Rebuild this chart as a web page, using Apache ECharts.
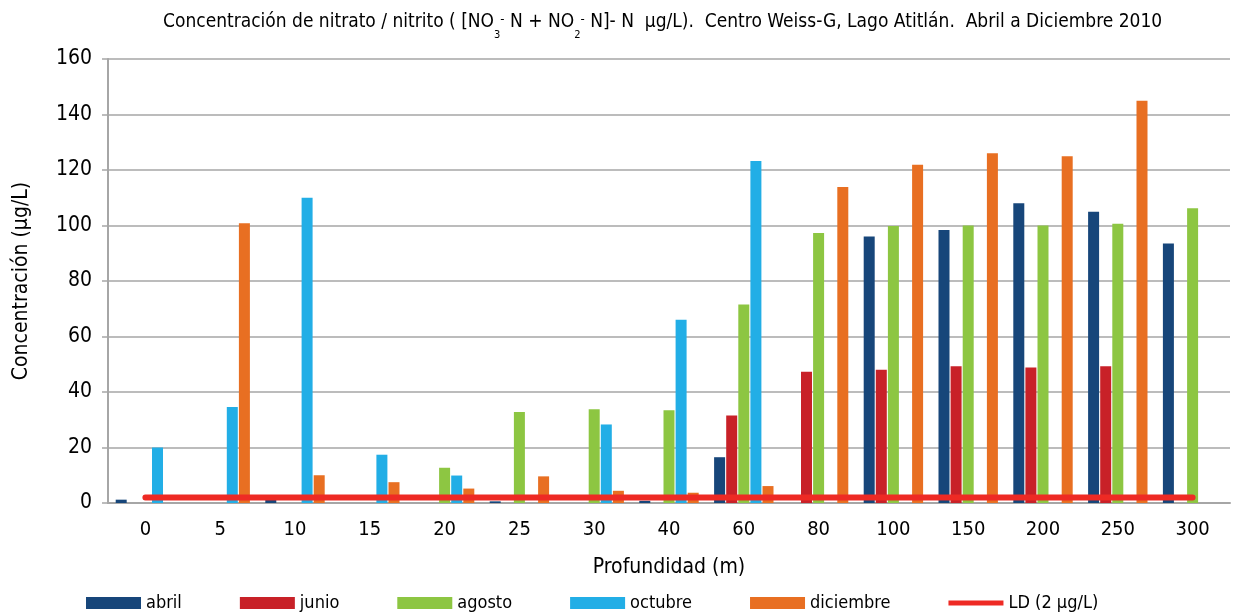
<!DOCTYPE html>
<html>
<head>
<meta charset="utf-8">
<script src="https://cdn.jsdelivr.net/npm/echarts@6/dist/echarts.min.js"></script>
<style>
html,body{margin:0;padding:0;background:#fff;}
#chart{width:1236px;height:616px;}
</style>
</head>
<body>
<div id="chart"></div>
<script>
var categories = ['0','5','10','15','20','25','30','40','60','80','100','150','200','250','300'];
var abril     = [1.2, null, 1.2, null, null, 0.6, null, 0.8, 16.5, null, 96, 98.4, 108, 105, 93.5];
var junio     = [null, null, null, null, null, null, null, null, 31.5, 47.3, 48, 49.3, 48.8, 49.3, null];
var agosto    = [null, null, null, null, 12.7, 32.8, 33.8, 33.4, 71.5, 97.3, 99.8, 100, 100, 100.6, 106.2];
var octubre   = [20, 34.6, 110, 17.4, 9.9, null, 28.3, 66, 123.2, null, null, null, null, null, null];
var diciembre = [null, 100.8, 10, 7.5, 5.2, 9.6, 4.4, 3.7, 6.1, 113.9, 121.9, 126, 125, 145, null];
var LD        = [2, 2, 2, 2, 2, 2, 2, 2, 2, 2, 2, 2, 2, 2, 2];
var yTicks = {min: 0, max: 160, interval: 20};

var FONT = '"Liberation Sans Narrow","DejaVu Sans Condensed",sans-serif';
var chart = echarts.init(document.getElementById('chart'));

function barSeries(name, data, color) {
  return {
    name: name, type: 'bar', data: data,
    barWidth: 11, barGap: '10%',
    itemStyle: {color: color},
    z: 2
  };
}

chart.setOption({
  animation: false,
  backgroundColor: '#ffffff',
  title: {
    left: 158, top: 8,
    text: '{a|Concentración de nitrato / nitrito ( [NO}{sub|3}{sup|-}{a| N + NO}{sub|2}{sup|-}{a| N]- N  μg/L).  Centro Weiss-G, Lago Atitlán.  Abril a Diciembre 2010}',
    textStyle: {
      fontWeight: 'normal',
      rich: {
        a: {fontFamily: FONT, fontSize: 19, fontWeight: 'normal', color: '#000', lineHeight: 28, verticalAlign: 'top'},
        sub: {fontFamily: FONT, fontSize: 11, fontWeight: 'normal', color: '#000', lineHeight: 11, verticalAlign: 'bottom'},
        sup: {fontFamily: FONT, fontSize: 13, fontWeight: 'normal', color: '#000', lineHeight: 13, verticalAlign: 'top'}
      }
    }
  },
  legend: {
    left: 81, top: 589,
    itemWidth: 55, itemHeight: 12, itemGap: 58,
    textStyle: {fontFamily: FONT, fontSize: 18, color: '#000'},
    data: [
      {name: 'abril', icon: 'rect'},
      {name: 'junio', icon: 'rect'},
      {name: 'agosto', icon: 'rect'},
      {name: 'octubre', icon: 'rect'},
      {name: 'diciembre', icon: 'rect'},
      {name: 'LD (2 μg/L)', icon: 'path://M0,0L0,0M55,12L55,12M0,3.5L55,3.5L55,8.5L0,8.5Z', itemStyle: {color: '#ee2a24'}}
    ]
  },
  grid: {left: 108, right: 6, top: 59, bottom: 113},
  xAxis: {
    type: 'category',
    data: categories,
    name: 'Profundidad (m)',
    nameLocation: 'middle',
    nameGap: 54,
    nameTextStyle: {fontFamily: FONT, fontSize: 21, color: '#000'},
    axisLine: {lineStyle: {color: '#a6a6a6', width: 2}},
    axisTick: {show: false},
    axisLabel: {fontFamily: FONT, fontSize: 20, color: '#000', margin: 17}
  },
  yAxis: {
    type: 'value',
    min: yTicks.min, max: yTicks.max, interval: yTicks.interval,
    name: 'Concentración (μg/L)',
    nameLocation: 'middle',
    nameGap: 76,
    nameTextStyle: {fontFamily: FONT, fontSize: 21, color: '#000'},
    axisLine: {show: true, lineStyle: {color: '#a6a6a6', width: 2}},
    axisTick: {show: true, length: 6, lineStyle: {color: '#a6a6a6', width: 1.5}},
    axisLabel: {fontFamily: FONT, fontSize: 21, color: '#000', margin: 16},
    splitLine: {lineStyle: {color: '#a6a6a6', width: 1.5}}
  },
  series: [
    barSeries('abril', abril, '#17467a'),
    barSeries('junio', junio, '#c82128'),
    barSeries('agosto', agosto, '#8dc642'),
    barSeries('octubre', octubre, '#22aee6'),
    barSeries('diciembre', diciembre, '#e86f22'),
    {
      name: 'LD (2 μg/L)', type: 'line', data: LD,
      symbol: 'none', showSymbol: false,
      itemStyle: {color: '#ee2a24'},
      lineStyle: {color: '#ee2a24', width: 6, cap: 'round'},
      z: 5
    }
  ]
});
</script>
</body>
</html>
